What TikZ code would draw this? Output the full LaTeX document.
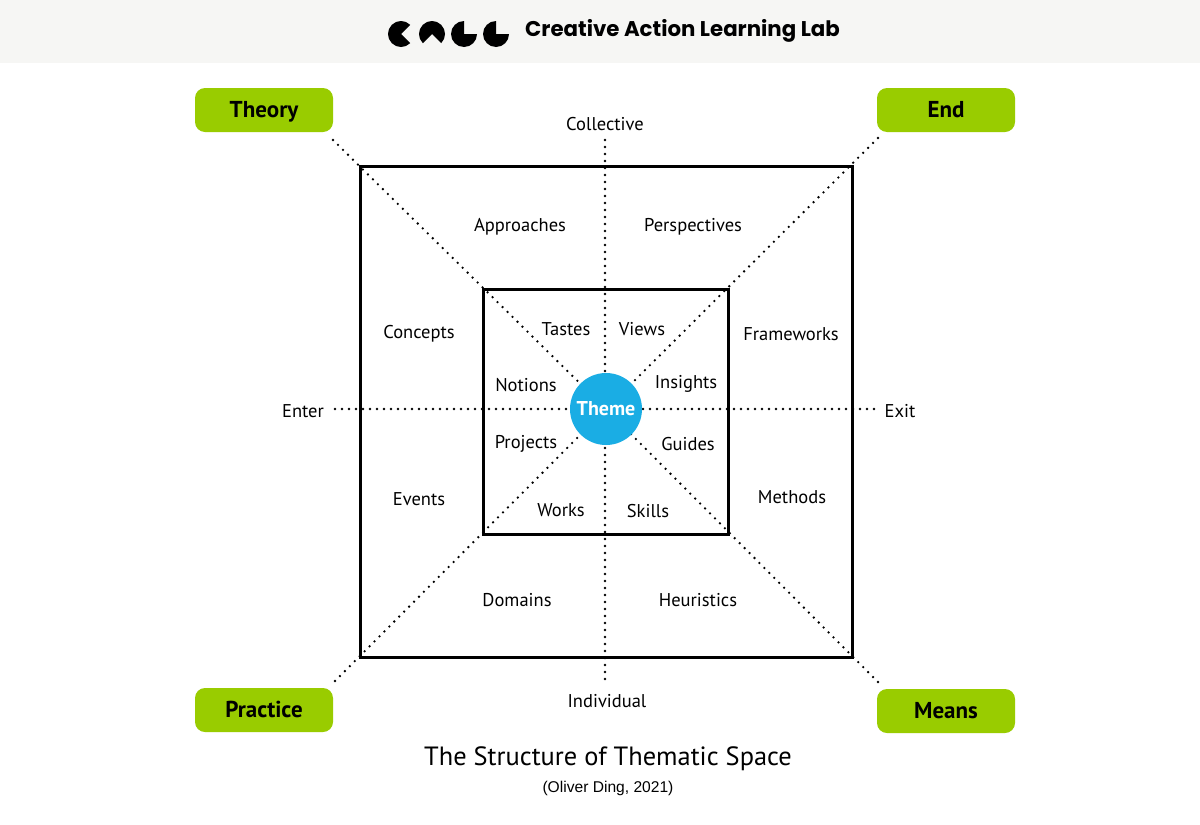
\documentclass[tikz,border=0pt]{standalone}
\usepackage{fontspec}
\setmainfont{PT Sans}
\newfontfamily\hdrfont{Poppins}
\newfontfamily\arialfont{Liberation Sans}
\definecolor{hdrbg}{HTML}{F6F6F4}
\definecolor{limegreen}{HTML}{99CC00}
\definecolor{themeblue}{HTML}{1AADE4}
\tikzset{
  lbl/.style={inner sep=0pt, font=\fontsize{18.5}{20}\selectfont, text=black},
  greenbox/.style={fill=limegreen, rounded corners=10pt, minimum width=138pt, minimum height=44pt, inner sep=0pt, text height=15.6pt, text depth=0pt, font=\fontsize{23}{25}\selectfont\bfseries},
  dotline/.style={line width=2.6pt, line cap=round, dash pattern=on 0pt off 7pt, black},
  boxline/.style={line width=3pt, black},
}
\begin{document}
\begin{tikzpicture}[x=1pt,y=-1pt]
\useasboundingbox (0,0) rectangle (1200,825);
\fill[white] (0,0) rectangle (1200,825);
\fill[hdrbg] (0,0) rectangle (1200,63);
% logo
\fill (401,34) -- ++(45:13) arc[start angle=45, end angle=315, radius=13] -- cycle;
\fill (432,34) -- ++(135:13) arc[start angle=135, end angle=405, radius=13] -- cycle;
\fill (464,34) -- ++(0:13) arc[start angle=0, end angle=270, radius=13] -- cycle;
\fill (496,34) -- ++(0:13) arc[start angle=0, end angle=270, radius=13] -- cycle;
\node[inner sep=0pt, anchor=west, font=\hdrfont\bfseries\fontsize{21.3}{23}\selectfont] (hdr) at (525,31) {Creative Action Learning Lab};

% end coordinates
\coordinate (top) at (605,140);
\coordinate (bot) at (605,681);
\coordinate (lft) at (335,409);
\coordinate (rgt) at (878,409);
\coordinate (tl) at (333,140);
\coordinate (tr) at (878,138);
\coordinate (bl) at (335,681);
\coordinate (br) at (878,682);
\coordinate (ctr) at (606,409);

\draw[dotline] (top) -- (bot);
\draw[dotline] (lft) -- (rgt);
\draw[dotline] (tl) -- (ctr);
\draw[dotline] (tr) -- (ctr);
\draw[dotline] (bl) -- (ctr);
\draw[dotline] (br) -- (ctr);

\draw[boxline] (360,166) rectangle (852,657);
\draw[boxline] (483,289) rectangle (728,534);

\node[circle, fill=themeblue, minimum size=72pt, inner sep=0pt, text=white, font=\fontsize{20}{22}\selectfont\bfseries] (theme) at (ctr) {Theme};

\node[greenbox] (theory) at (264,110) {Theory};
\node[greenbox] (end) at (946,110) {End};
\node[greenbox] (practice) at (264,710) {Practice};
\node[greenbox] (means) at (946,711) {Means};

\node[lbl] (collective) at (605,124) {Collective};
\node[lbl] (individual) at (607,701) {Individual};
\node[lbl] (enter) at (303,411) {Enter};
\node[lbl] (exit) at (900,411) {Exit};

\node[lbl] (approaches) at (520,227) {Approaches};
\node[lbl] (perspectives) at (693,227) {Perspectives};
\node[lbl] (concepts) at (419,334) {Concepts};
\node[lbl] (frameworks) at (791,334) {Frameworks};
\node[lbl] (events) at (419,499) {Events};
\node[lbl] (methods) at (792,497) {Methods};
\node[lbl] (domains) at (517,600) {Domains};
\node[lbl] (heuristics) at (698,600) {Heuristics};

\node[lbl] (tastes) at (566,329) {Tastes};
\node[lbl] (views) at (642,329) {Views};
\node[lbl] (notions) at (526,385) {Notions};
\node[lbl] (insights) at (686,384) {Insights};
\node[lbl] (projects) at (526,444) {Projects};
\node[lbl] (guides) at (688,444) {Guides};
\node[lbl] (works) at (561,510) {Works};
\node[lbl] (skills) at (648,511) {Skills};

\node[inner sep=0pt, font=\fontsize{26.4}{28}\selectfont] (title) at (608,759) {The Structure of Thematic Space};
\node[inner sep=0pt, font=\arialfont\fontsize{15.6}{17}\selectfont] (credit) at (608,788) {(Oliver Ding, 2021)};
\end{tikzpicture}
\end{document}
